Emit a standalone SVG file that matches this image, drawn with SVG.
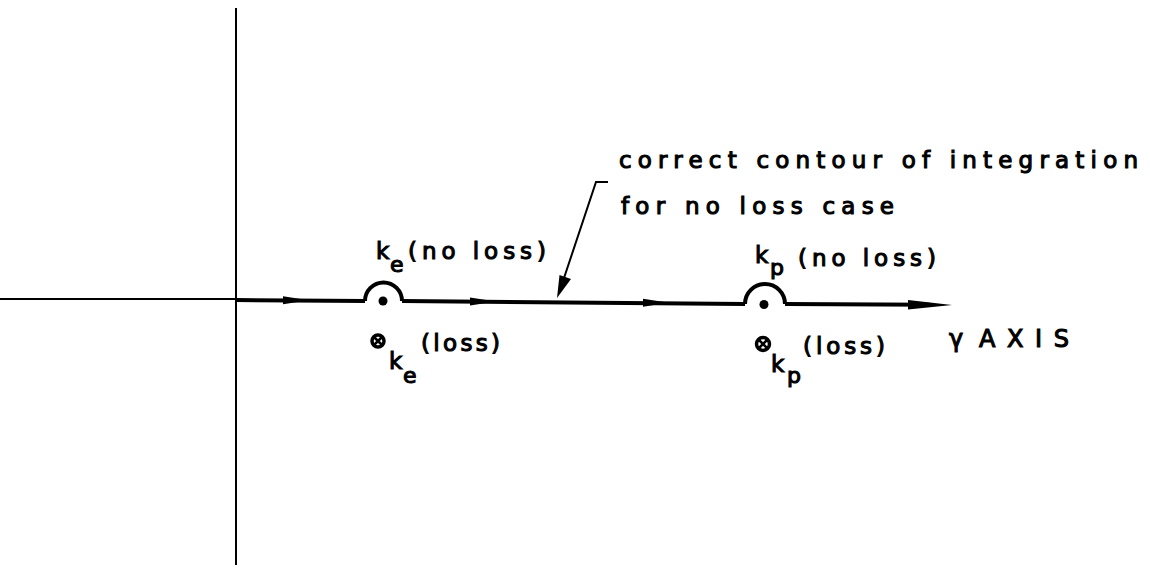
<svg xmlns="http://www.w3.org/2000/svg" width="1150" height="572" viewBox="0 0 1150 572">
<style>
text{font-family:"DejaVu Sans","Liberation Sans",sans-serif;font-size:23px;fill:#000;stroke:#000;stroke-width:1.1}
.sub{font-size:22px}
.axis{stroke:#000;stroke-width:2;fill:none}
.contour{stroke:#000;stroke-width:4;fill:none}
.head{fill:#000}
.pole{stroke:#000;fill:none}
</style>
<defs>
<path id="ah" d="M-14,-4 L12,0 L-14,4 Z"/>
</defs>
<rect width="1150" height="572" fill="#fff"/>
<g id="axes">
<line class="axis" x1="236" y1="8" x2="236" y2="565"/>
<line class="axis" x1="0" y1="299" x2="236" y2="299"/>
</g>
<g id="connectors">
<path class="contour" d="M236,300 L365,301"/>
<path class="contour" d="M365,301 A18.5,18.5 0 0 1 402,301"/>
<path class="contour" d="M402,301 L745,304"/>
<path class="contour" d="M745,304 A20,20 0 0 1 785,304"/>
<path class="contour" d="M785,304 L930,304.8"/>
<use href="#ah" class="head" x="297" y="300.2"/>
<use href="#ah" class="head" x="484" y="301.6"/>
<use href="#ah" class="head" x="657" y="302.8"/>
<path class="head" d="M908,300 L952,305 L908,309.5 Z"/>
<path d="M608,182 L596,182 L562,284" stroke="#000" stroke-width="2" fill="none"/>
<path class="head" d="M557,298 L559.5,275 L571,279 Z"/>
</g>
<g id="pole-ke">
<circle cx="383" cy="301" r="4.5" fill="#000"/>
<text x="376" y="259">k</text><text class="sub" x="390" y="272">e</text>
<text x="408" y="259" textLength="138" lengthAdjust="spacing">(no loss)</text>
<g class="pole"><circle cx="378" cy="341" r="6" stroke-width="3.5"/><path d="M374,337 L382,345 M382,337 L374,345" stroke-width="2.5"/></g>
<text x="389" y="369">k</text><text class="sub" x="403" y="383">e</text>
<text x="421" y="351" textLength="79" lengthAdjust="spacing">(loss)</text>
</g>
<g id="pole-kp">
<circle cx="764" cy="304.5" r="4.5" fill="#000"/>
<text x="755" y="263">k</text><text class="sub" x="770" y="275">p</text>
<text x="798" y="266" textLength="138" lengthAdjust="spacing">(no loss)</text>
<g class="pole"><circle cx="763" cy="344" r="6.5" stroke-width="3.5"/><path d="M758.5,339.5 L767.5,348.5 M767.5,339.5 L758.5,348.5" stroke-width="2.5"/></g>
<text x="771" y="372">k</text><text class="sub" x="787" y="383">p</text>
<text x="803" y="354" textLength="82" lengthAdjust="spacing">(loss)</text>
</g>
<g id="label-contour">
<text x="619" y="168" textLength="519" lengthAdjust="spacing">correct contour of integration</text>
<text x="621" y="214" textLength="273" lengthAdjust="spacing">for no loss case</text>
</g>
<g id="label-axis">
<text x="949" y="347" style="font-size:24px">γ</text>
<text x="979" y="347" style="font-size:24px" textLength="90" lengthAdjust="spacing">AXIS</text>
</g>
</svg>
